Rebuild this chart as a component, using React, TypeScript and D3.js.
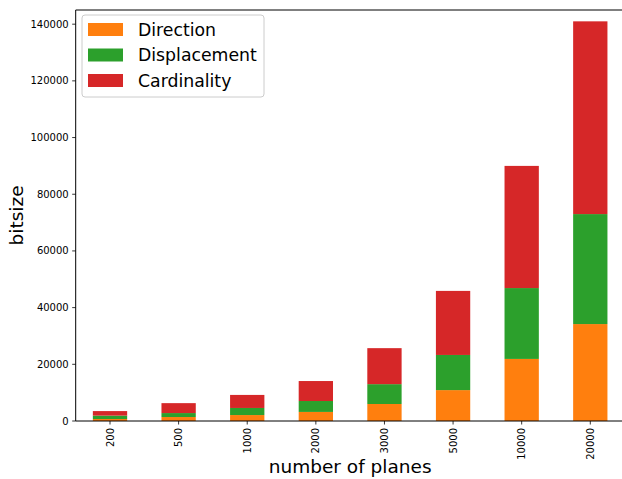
import React from "react";
import * as d3 from "d3";

const categories = ["200", "500", "1000", "2000", "3000", "5000", "10000", "20000"];
const direction = [700, 1400, 2100, 3200, 6000, 10900, 21900, 34200];
const displacement = [1200, 1400, 2500, 3850, 7000, 12400, 25000, 38800];
const cardinality = [1600, 3500, 4600, 7050, 12700, 22600, 43100, 68000];
const seriesNames = ["Direction", "Displacement", "Cardinality"];
const seriesColors = ["#ff7f0e", "#2ca02c", "#d62728"];
const yTicks = [0, 20000, 40000, 60000, 80000, 100000, 120000, 140000];

const W = 622;
const H = 479;
const left = 75.7;
const right = 624.6;
const top = 10;
const bottom = 421;

export default function App() {
  const x = d3.scaleBand<string>().domain(categories).range([left, right]).paddingInner(0.5).paddingOuter(0.25);
  const y = d3.scaleLinear().domain([0, 145000]).range([bottom, top]);
  const rows = categories.map((c, i) => ({ cat: c, Direction: direction[i], Displacement: displacement[i], Cardinality: cardinality[i] }));
  const stacked = d3.stack<any>().keys(seriesNames)(rows);
  const font = "DejaVu Sans, sans-serif";

  return (
    <svg width={W} height={H} style={{ position: "absolute", left: 0, top: 0 }} fontFamily={font}>
      <rect x={0} y={0} width={W} height={H} fill="#fff" />
      {stacked.map((s, si) => (
        <g key={s.key} fill={seriesColors[si]}>
          {s.map((d, i) => (
            <rect key={i} x={x(categories[i])} width={x.bandwidth()} y={y(d[1])} height={y(d[0]) - y(d[1])} />
          ))}
        </g>
      ))}
      {/* spines */}
      <line x1={left} x2={left} y1={top} y2={bottom} stroke="#000" strokeWidth={1} />
      <line x1={left} x2={right} y1={top} y2={top} stroke="#000" strokeWidth={1} />
      <line x1={right} x2={right} y1={top} y2={bottom} stroke="#000" strokeWidth={1} />
      <line x1={left} x2={right} y1={bottom} y2={bottom} stroke="#000" strokeWidth={1} />
      {/* y ticks */}
      {yTicks.map((t) => (
        <g key={t} transform={`translate(0,${y(t)})`}>
          <line x1={left - 3.5} x2={left} stroke="#000" strokeWidth={0.8} />
          <text x={left - 7} dy="0.35em" textAnchor="end" fontSize={10} fill="#000">{t}</text>
        </g>
      ))}
      {/* x ticks */}
      {categories.map((c) => {
        const cx = (x(c) as number) + x.bandwidth() / 2;
        return (
          <g key={c} transform={`translate(${cx},${bottom})`}>
            <line y1={0} y2={3.5} stroke="#000" strokeWidth={0.8} />
            <text transform="translate(0,7) rotate(-90)" dy="0.35em" textAnchor="end" fontSize={10} fill="#000">{c}</text>
          </g>
        );
      })}
      <text x={(left + right) / 2} y={473} textAnchor="middle" fontSize={18.5} fill="#000">number of planes</text>
      <text transform={`translate(23,${(top + bottom) / 2}) rotate(-90)`} textAnchor="middle" fontSize={18.5} fill="#000">bitsize</text>
      {/* legend */}
      <g>
        <rect x={82} y={15} width={182} height={82} rx={3} fill="#fff" fillOpacity={0.8} stroke="#ccc" strokeWidth={1} />
        {seriesNames.map((n, i) => (
          <g key={n} transform={`translate(0,${29.5 + i * 25.5})`}>
            <rect x={88} y={-6.5} width={35} height={13} fill={seriesColors[i]} />
            <text x={138} dy="0.35em" fontSize={17.3} fill="#000">{n}</text>
          </g>
        ))}
      </g>
    </svg>
  );
}
